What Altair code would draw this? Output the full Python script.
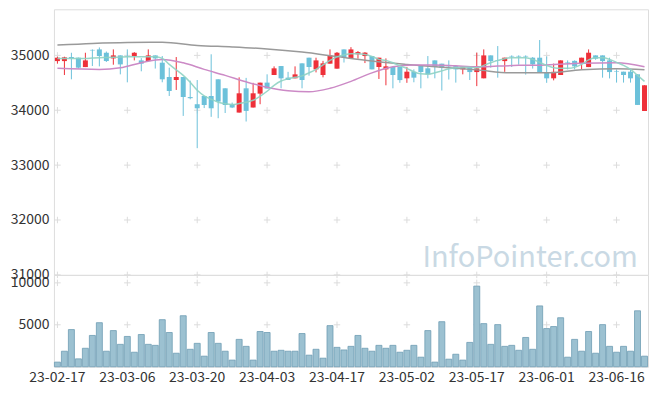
import altair as alt
import pandas as pd

# ---- trading days (Korean market, 2023) ----
month_days = {
    "02": [17, 20, 21, 22, 23, 24, 27, 28],
    "03": [2, 3, 6, 7, 8, 9, 10, 13, 14, 15, 16, 17, 20, 21, 22, 23, 24, 27, 28, 29, 30, 31],
    "04": [3, 4, 5, 6, 7, 10, 11, 12, 13, 14, 17, 18, 19, 20, 21, 24, 25, 26, 27, 28],
    "05": [2, 3, 4, 8, 9, 10, 11, 12, 15, 16, 17, 18, 19, 22, 23, 24, 25, 26, 30, 31],
    "06": [1, 2, 5, 7, 8, 9, 12, 13, 14, 15, 16, 19, 20, 21, 22],
}
dates = [f"23-{m}-{d:02d}" for m, ds in month_days.items() for d in ds]

opens = [34896, 34896, 34970, 34958, 34787, 35100, 35109, 35048, 34945, 35000,
         34990, 34988, 34909, 34896, 35000, 34867, 34606, 34551, 34606, 34240,
         34110, 34260, 34260, 34564, 34400, 34110, 33958, 34400, 34050, 34303,
         34504, 34642, 34806, 34594, 34582, 34855, 34958, 34745, 34642, 34849,
         34758, 35109, 34945, 35020, 34988, 34988, 34788, 34745, 34788, 34788,
         34582, 34703, 34806, 34764, 34909, 34849, 34815, 34805, 34745, 34805,
         34696, 34582, 35000, 34910, 34896, 34990, 34990, 34990, 34958, 34958,
         34696, 34582, 34642, 34880, 34900, 34849, 34787, 35000, 35000, 34909,
         34710, 34703, 34703, 34655, 33987]
highs = [34976, 34976, 35048, 34960, 35048, 35109, 35145, 35070, 35109, 35000,
         35109, 35060, 34950, 35109, 35000, 34988, 34776, 34970, 34606, 34540,
         34551, 34260, 35020, 34564, 34400, 34140, 34600, 34590, 34500, 34503,
         34655, 34800, 34806, 34700, 34800, 34855, 34958, 34958, 34900, 35109,
         35060, 35109, 35150, 35080, 35060, 34988, 34958, 34945, 34788, 34788,
         34788, 34745, 34806, 34988, 34909, 34849, 34909, 34805, 34794, 34805,
         35049, 35109, 35000, 35170, 34958, 35000, 35000, 35000, 34970, 35280,
         34980, 34850, 34909, 34909, 34909, 34958, 35109, 35000, 35000, 34958,
         34745, 34703, 34745, 34655, 34455]
lows = [34849, 34642, 34564, 34760, 34787, 34806, 34800, 34880, 34830, 34654,
        34509, 34909, 34710, 34896, 34760, 34510, 34260, 34370, 33897, 34200,
        33309, 34040, 33880, 33855, 33950, 34040, 33958, 33795, 34050, 34110,
        34395, 34642, 34400, 34551, 34582, 34400, 34630, 34690, 34600, 34849,
        34758, 34870, 34945, 34940, 34860, 34745, 34570, 34455, 34400, 34500,
        34500, 34510, 34400, 34582, 34582, 34360, 34560, 34504, 34655, 34551,
        34440, 34582, 34776, 34594, 34700, 34788, 34830, 34650, 34760, 34696,
        34500, 34545, 34642, 34745, 34745, 34745, 34787, 34920, 34594, 34580,
        34504, 34504, 34504, 34097, 33987]
closes = [34958, 34964, 34945, 34776, 34909, 35090, 34988, 34897, 35000, 34836,
          34980, 35048, 34849, 35000, 34945, 34564, 34351, 34606, 34242, 34220,
          34036, 34096, 34036, 34158, 34096, 34050, 34309, 33988, 34309, 34503,
          34395, 34764, 34582, 34551, 34654, 34551, 34788, 34909, 34855, 35000,
          35048, 34958, 35109, 35060, 35050, 34745, 34958, 34800, 34642, 34550,
          34703, 34594, 34697, 34654, 34788, 34776, 34800, 34745, 34794, 34696,
          34764, 35000, 34896, 34900, 34958, 34980, 34980, 34980, 34836, 34696,
          34582, 34700, 34909, 34870, 34800, 34958, 35049, 34940, 34896, 34696,
          34700, 34642, 34582, 34097, 34455]
volumes = [550, 1850, 4430, 940, 2200, 3730, 5250, 1850, 4310, 2670,
           3610, 1730, 3840, 2670, 2550, 5610, 4080, 1610, 6080, 2080,
           2790, 1260, 4080, 2790, 1850, 790, 3260, 2430, 790, 4200,
           4080, 1850, 1960, 1850, 1850, 3960, 1380, 2080, 1020, 4900,
           2310, 2000, 2430, 3730, 2200, 1850, 2550, 2200, 2550, 1730,
           1960, 2550, 1140, 4310, 550, 5370, 900, 1490, 790, 2900,
           9610, 5140, 2670, 5020, 2430, 2550, 1960, 3490, 2080, 7250,
           4550, 4790, 5840, 1140, 3260, 1850, 4200, 1610, 5020, 2430,
           1730, 2430, 1850, 6670, 1260]

# moving averages
ma_short = [34945, 34944, 34942, 34944, 34945, 34952, 34958, 34961, 34964, 34970,
            34976, 34976, 34976, 34975, 34973, 34945, 34836, 34736, 34636, 34509,
            34364, 34264, 34200, 34146, 34118, 34104, 34122, 34146, 34182, 34255,
            34346, 34455, 34533, 34573, 34600, 34627, 34682, 34745, 34827, 34909,
            34973, 35009, 35031, 35031, 35018, 34982, 34927, 34909, 34867, 34809,
            34764, 34700, 34664, 34658, 34682, 34718, 34755, 34776, 34785, 34782,
            34773, 34818, 34867, 34909, 34940, 34958, 34958, 34955, 34927, 34873,
            34818, 34776, 34764, 34764, 34782, 34836, 34918, 34955, 34955, 34927,
            34873, 34818, 34745, 34636, 34527]
ma_mid_idx = [0, 6, 9, 12, 15, 18, 21, 24, 27, 30, 33, 36, 39, 42, 45, 48, 51, 54,
              57, 60, 63, 66, 70, 75, 80, 84]
ma_mid = [34764, 34745, 34773, 34867, 34927, 34864, 34745, 34636, 34518, 34418,
          34355, 34336, 34400, 34527, 34682, 34791, 34827, 34827, 34809, 34791,
          34805, 34818, 34827, 34855, 34864, 34791]
ma_long_idx = [0, 5, 10, 15, 20, 25, 30, 35, 40, 45, 50, 55, 60, 65, 70, 75, 80, 84]
ma_long = [35187, 35218, 35236, 35240, 35182, 35155, 35118, 35060, 34978, 34898,
           34836, 34782, 34736, 34682, 34682, 34736, 34755, 34736]

price_ticks = [31000, 32000, 33000, 34000, 35000]
vol_ticks = [5000, 10000]
label_dates = dates[::10]

UP = "#ee3039"
DOWN = "#6cc1da"
FONT = "Noto Sans CJK KR"

df = pd.DataFrame({"date": dates, "open": opens, "high": highs, "low": lows,
                   "close": closes, "volume": volumes, "ma5": ma_short})
df["dir"] = ["up" if c > o else "down" for o, c in zip(opens, closes)]
mid_df = pd.DataFrame({"date": [dates[i] for i in ma_mid_idx], "v": ma_mid})
long_df = pd.DataFrame({"date": [dates[i] for i in ma_long_idx], "v": ma_long})
grid_p = pd.DataFrame([{"date": d, "v": t} for d in label_dates for t in price_ticks])
grid_v = pd.DataFrame([{"date": d, "v": t} for d in label_dates for t in vol_ticks])

xscale = alt.Scale(domain=dates, paddingInner=0, paddingOuter=0)
X = alt.X("date:O", sort=None, scale=xscale, axis=None)
pscale = alt.Scale(domain=[31000, 35840], nice=False, zero=False)
vscale = alt.Scale(domain=[0, 10950], nice=False)
color = alt.Color("dir:N", scale=alt.Scale(domain=["up", "down"], range=[UP, DOWN]), legend=None)
cross = "M-1,0L1,0M0,-1L0,1"

yaxis_p = alt.Axis(values=price_ticks, format="d", title=None, grid=False, ticks=False, domain=False,
                   labelFont=FONT, labelFontSize=14, labelColor="#333333", labelPadding=5,
                   minExtent=45, maxExtent=45)

p_grid = alt.Chart(grid_p).mark_point(shape=cross, size=42, filled=False, color="#dcdcdc",
                                      strokeWidth=1, opacity=1).encode(
    x=X, y=alt.Y("v:Q", scale=pscale, axis=yaxis_p))
wicks = alt.Chart(df).mark_rule(strokeWidth=1).encode(
    x=X, y=alt.Y("low:Q", scale=pscale), y2="high:Q", color=color)
bodies = alt.Chart(df).mark_bar(size=5).encode(
    x=X, y=alt.Y("open:Q", scale=pscale), y2="close:Q", color=color)
line_long = alt.Chart(long_df).mark_line(color="#9a9a9a", strokeWidth=1.5, interpolate="monotone").encode(
    x=X, y=alt.Y("v:Q", scale=pscale))
line_mid = alt.Chart(mid_df).mark_line(color="#cc8ac6", strokeWidth=1.5, interpolate="monotone").encode(
    x=X, y=alt.Y("v:Q", scale=pscale))
line_short = alt.Chart(df).mark_line(color="#8fd3c3", strokeWidth=1.5, opacity=0.9,
                                     interpolate="monotone").encode(
    x=X, y=alt.Y("ma5:Q", scale=pscale))
watermark = alt.Chart(alt.Data(values=[{"t": "InfoPointer.com"}])).mark_text(
    font=FONT, fontSize=29, color="#c9d9e4", align="center", baseline="alphabetic").encode(
    text="t:N", x=alt.value(477), y=alt.value(258))

price = alt.layer(p_grid, watermark, wicks, bodies, line_long, line_mid, line_short).properties(
    width=595, height=266)

yaxis_v = alt.Axis(values=vol_ticks, format="d", title=None, grid=False, ticks=False, domain=False,
                   labelFont=FONT, labelFontSize=14, labelColor="#333333", labelPadding=5,
                   minExtent=45, maxExtent=45)
Xv = alt.X("date:O", sort=None, scale=xscale,
           axis=alt.Axis(values=label_dates, title=None, labelAngle=0, ticks=False, domain=False,
                         grid=False, labelFont=FONT, labelFontSize=14, labelColor="#333333",
                         labelPadding=4))
v_grid = alt.Chart(grid_v).mark_point(shape=cross, size=42, filled=False, color="#dcdcdc",
                                      strokeWidth=1, opacity=1).encode(
    x=Xv, y=alt.Y("v:Q", scale=vscale, axis=yaxis_v))
vbars = alt.Chart(df).mark_bar(size=6, color="#9cc1d1", stroke="#6f9db4", strokeWidth=0.8).encode(
    x=Xv, y=alt.Y("volume:Q", scale=vscale))
vol = alt.layer(v_grid, vbars).properties(width=595, height=92)

chart = alt.vconcat(price, vol, spacing=0, bounds="flush").properties(
    padding={"left": 0, "top": 0, "right": 0, "bottom": 0}
).configure_view(stroke="#e3e3e3", strokeWidth=1).configure(background="white")

chart.save("out.html", embed_options={"renderer": "svg", "actions": False})
